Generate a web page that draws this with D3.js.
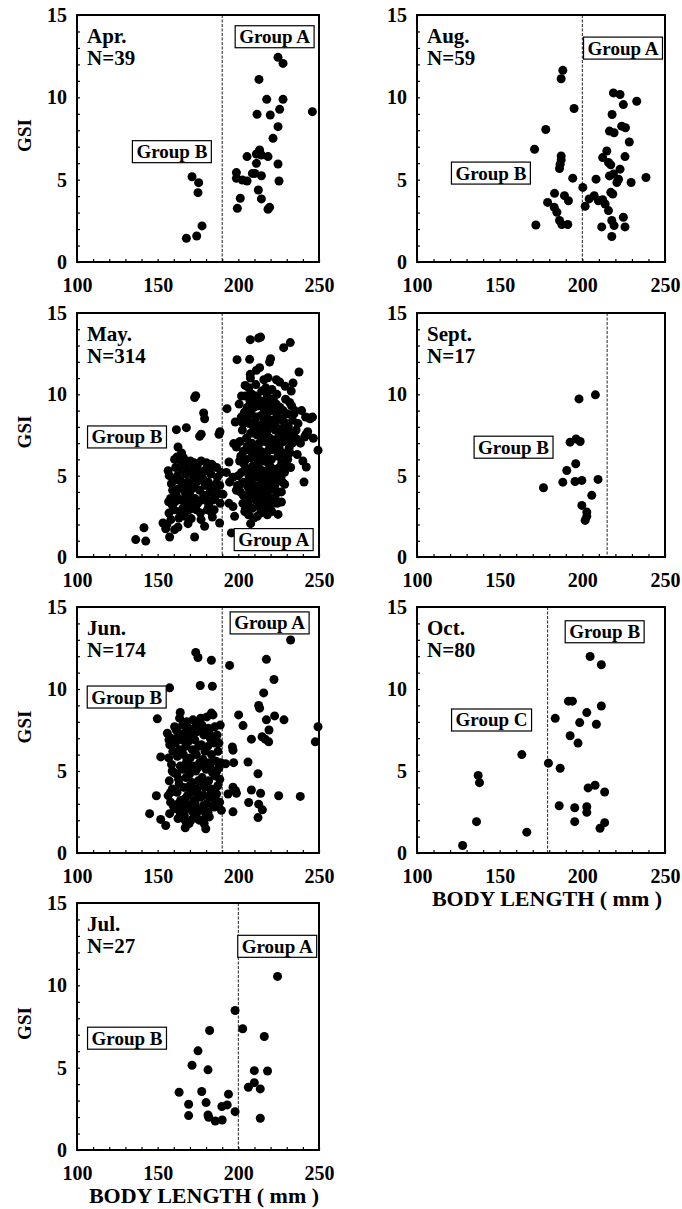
<!DOCTYPE html>
<html>
<head>
<meta charset="utf-8">
<script src="https://cdn.jsdelivr.net/npm/d3@7"></script>
<style>
  html, body { margin: 0; padding: 0; background: #fff; }
  svg { display: block; }
  text { font-family: "Liberation Serif", "Times New Roman", serif; font-weight: bold; fill: #000; }
</style>
</head>
<body>
<svg id="chart" width="682" height="1209"></svg>
<script>
// Monthly samples: [body length (mm), GSI]
const aprPoints = [
  [171.3,5.18],[175.4,4.82],[175.0,4.21],[177.5,2.19],[174.2,1.58],[167.8,1.44],
  [224.6,12.43],[227.7,12.06],[212.8,11.09],[217.6,9.88],[227.7,9.88],[245.9,9.13],
  [225.6,9.27],[211.6,8.97],[219.8,8.93],[224.6,8.22],[221.5,7.51],[212.8,6.70],
  [211.2,6.56],[214.3,6.50],[205.4,6.40],[218.4,6.40],[211.2,5.99],[224.6,5.95],
  [198.8,5.43],[198.8,5.08],[202.5,4.98],[205.4,4.92],[208.7,5.38],[214.3,5.24],
  [225.2,4.92],[212.4,4.37],[201.2,3.87],[214.3,3.83],[199.4,3.26],[218.4,3.20],
  [219.4,3.32],[213.2,6.80],[210.2,5.38]
];

const mayPoints = [
  // smaller fish
  [136.4,1.07],[142.6,0.98],[141.5,1.80],[153.3,2.09],[155.0,1.74],[157.4,1.23],[160.5,1.68],
  [162.6,1.84],[172.9,1.23],[179.1,1.89],[168.8,2.05],[170.8,2.36],[183.9,2.46],[188.4,2.09],
  [161.6,7.83],[167.8,7.95],[172.9,9.80],[173.6,9.92],[178.5,8.85],[179.1,8.50],[176.0,7.42],
  [177.0,7.55],[188.0,7.54],[188.6,7.70],[162.6,6.76],[162.0,6.15],[164.8,6.40],
  [156.5,5.3],[157.2,5.0],[158.0,3.6],[156.8,3.4],[159.0,3.2],[160.2,2.9],[157.0,2.7],
  [161.5,3.8],[163.0,4.2],[164.5,3.5],[163.8,2.8],[165.0,5.4],[166.2,5.8],[167.5,5.1],
  [168.4,4.6],[166.9,4.0],[168.0,3.3],[169.5,2.9],[170.2,5.9],[171.0,5.4],[172.3,4.9],
  [171.5,4.2],[173.0,3.6],[172.0,3.0],[174.5,5.6],[175.3,4.7],[176.0,4.1],[174.8,3.3],
  [176.5,2.7],[177.8,5.2],[178.6,3.8],[179.5,4.4],[180.2,5.8],[181.0,5.5],[181.6,3.2],
  [182.5,4.0],[183.5,5.7],[184.2,3.5],[185.0,2.9],[186.3,4.5],[187.5,3.9],[188.8,3.3],
  [189.3,5.2],[160.0,4.7],[161.2,5.5],[159.3,4.1],[165.7,3.0],[170.0,3.8],[173.7,5.3],
  [177.0,5.9],[163.2,2.4],[167.0,2.5],[158.2,2.3],[155.7,2.0],[184.3,5.6],[186.5,5.5],
  [190.5,3.85],[180.8,2.9],[176.9,2.3],[166.0,6.1],
  [158.5,4.5],[160.8,3.4],[162.3,5.0],[164.0,4.7],[165.6,4.3],[167.2,3.7],[169.0,5.3],
  [169.8,4.4],[171.4,3.4],[173.4,4.5],[174.0,2.9],[175.5,5.0],[177.3,3.5],[178.2,4.8],
  [180.0,3.6],[181.3,4.6],[182.9,5.1],[184.6,4.3],[185.6,3.7],[187.0,4.9],[183.0,2.8],
  [167.0,5.6],[164.5,5.9],[160.5,6.0],[172.5,5.8],[179.0,5.3],[188.5,4.4],
  // larger fish
  [207.4,13.36],[212.6,13.46],[213.8,13.52],[232.2,13.18],[228.1,12.87],[199.2,12.13],
  [207.0,12.15],[220.0,12.19],[219.4,11.99],[213.2,11.64],[211.2,11.48],[207.4,11.23],
  [237.6,11.37],[218.4,11.02],[223.6,10.90],[225.6,10.76],[233.9,10.70],[204.2,10.55],
  [193.0,9.12],[249.4,6.56],[241.7,8.61],[243.8,8.55],[242.1,7.54],[241.1,7.38],[236.0,7.27],
  [242.1,5.53],[240.7,4.61],[228.7,4.47],[226.7,4.0],[226.7,3.38],[224.6,2.62],[207.6,2.05],
  [195.7,1.48],[194.2,3.3],[196.7,4.9],[198.8,4.1],[197.1,6.97],[198.8,6.76],[198.1,8.30],
  [194.2,5.84],[192.6,5.2],[194.6,4.6],[196.7,3.1],[197.7,2.5],
  [200.5,9.4],[201.8,8.6],[202.5,7.8],[201.0,7.1],[203.2,6.5],[200.8,5.9],[202.0,5.2],
  [203.5,4.6],[201.2,4.0],[202.8,3.3],[204.0,2.8],[200.0,5.0],[199.5,4.4],[204.5,9.9],
  [203.8,8.9],[205.0,7.3],[204.6,6.0],[205.3,5.4],[205.8,3.8],[204.4,3.0],
  [206.5,10.4],[207.2,9.6],[208.0,8.8],[206.8,8.2],[207.6,7.6],[208.4,7.0],[206.2,6.6],
  [207.9,6.1],[209.0,5.6],[206.6,5.0],[208.2,4.5],[209.3,4.0],[207.0,3.5],[208.7,3.0],
  [206.3,2.6],[209.6,2.4],[209.8,9.2],[209.4,8.0],[210.0,6.8],[209.9,5.1],[208.8,3.6],
  [207.5,11.0],
  [210.8,10.6],[211.5,9.9],[212.3,9.3],[211.0,8.6],[212.8,8.1],[211.7,7.5],[213.0,7.0],
  [210.6,6.3],[212.2,5.9],[213.5,5.4],[211.3,4.9],[212.9,4.4],[214.0,3.9],[210.9,3.5],
  [212.6,3.1],[213.8,2.7],[214.5,10.2],[214.2,8.7],[214.8,7.4],[214.4,6.2],[215.0,5.0],
  [214.6,3.4],[211.8,2.5],[213.2,4.2],
  [215.8,10.9],[216.5,9.6],[217.3,8.9],[216.0,8.3],[217.8,7.7],[216.6,7.1],[218.2,6.5],
  [215.9,5.9],[217.5,5.3],[218.6,4.8],[216.3,4.3],[217.9,3.7],[219.0,3.2],[216.8,2.9],
  [219.4,9.4],[219.8,8.1],[219.2,6.9],[219.6,5.6],[218.9,4.1],[220.0,3.6],[215.5,7.9],
  [220.8,10.3],[221.6,9.7],[222.4,9.0],[221.0,8.4],[222.9,7.8],[221.4,7.2],[223.2,6.6],
  [220.5,6.0],[222.1,5.4],[223.6,4.7],[221.3,4.2],[222.8,3.7],[224.2,3.3],[220.7,2.8],
  [224.0,8.7],[224.5,6.2],[224.8,5.1],[223.9,10.0],[225.0,7.4],
  [225.8,9.2],[226.5,8.5],[227.3,7.9],[226.0,7.0],[228.0,6.4],[226.9,5.8],[228.6,5.2],
  [227.4,4.6],[229.3,9.7],[230.2,8.8],[231.0,8.0],[229.8,7.3],[231.5,6.7],[230.6,6.0],
  [232.4,5.5],[233.0,9.3],[233.6,8.4],[234.2,7.6],[232.8,10.2],[235.0,9.0],[229.0,10.5],
  [237.0,8.2],[238.5,7.0],[236.5,6.3],[239.2,9.0],[240.0,5.9],[244.5,8.5],[246.0,8.6],
  [241.8,7.5],[243.0,7.7],[246.5,7.3],
  [202.0,9.9],[203.0,8.2],[201.5,6.2],[203.6,5.7],[201.8,4.5],[203.0,3.8],[205.5,9.2],
  [205.8,8.4],[205.5,6.8],[206.0,4.3],[205.6,3.3],[208.5,10.0],[207.0,9.0],[208.6,6.5],
  [207.2,5.4],[207.6,4.8],[209.7,4.4],[210.2,7.6],[210.5,8.3],[210.0,9.6],[211.4,5.4],
  [211.6,4.1],[212.0,3.8],[213.4,9.6],[213.6,7.8],[213.8,6.5],[212.7,6.6],[215.3,9.2],
  [215.2,4.6],[215.5,3.9],[216.2,3.4],[217.0,10.4],[217.0,6.2],[216.9,4.9],[218.0,9.9],
  [218.3,8.5],[218.4,5.8],[218.0,2.6],[219.5,4.5],[219.5,7.3],[220.3,9.0],[220.8,6.6],
  [221.0,5.0],[221.8,3.3],[222.5,6.9],[222.6,4.4],[223.0,8.2],[223.5,9.4],[224.6,4.0],
  [225.3,6.7],[225.6,5.5],[226.2,7.6],[226.4,4.9],[227.8,9.0],[228.4,8.3],[228.0,7.1],
  [229.3,6.2],[229.6,5.6],[230.8,7.7],[231.8,9.5],[231.9,7.2],[233.5,7.0],[234.5,8.8],
  [232.0,6.4],[235.8,7.8]
];

const junPoints = [
  // smaller fish
  [157.4,10.07],[173.6,12.23],[175.0,11.92],[183.3,11.75],[176.4,10.21],[183.9,10.17],
  [149.8,8.18],[164.0,8.57],[163.6,8.22],[183.3,8.53],[184.3,8.42],[176.7,8.22],[171.9,8.12],
  [145.0,2.40],[151.9,2.05],[155.0,1.68],[167.1,1.54],[179.8,1.48],[149.2,3.49],[151.9,5.86],
  [156.0,7.3],[158.2,7.0],[157.5,6.6],[159.4,6.2],[156.8,5.8],[158.6,5.4],[160.0,4.9],
  [157.2,4.4],[159.1,3.9],[156.5,3.5],[158.0,3.1],[160.3,2.7],[157.4,2.4],
  [161.5,7.5],[162.8,7.1],[161.0,6.7],[163.5,6.3],[162.2,5.9],[164.0,5.3],[161.8,4.8],
  [163.3,4.2],[162.0,3.7],[164.2,3.2],[161.4,2.9],[163.8,2.5],[162.6,2.1],
  [165.4,7.8],[166.6,7.3],[165.0,6.9],[167.3,6.5],[166.0,6.0],[168.0,5.6],[165.6,5.1],
  [167.5,4.6],[166.3,4.0],[168.4,3.5],[165.2,3.0],[167.8,2.7],[166.5,2.3],
  [169.5,7.6],[170.8,7.2],[169.0,6.8],[171.5,6.3],[170.2,5.8],[172.0,5.3],[169.7,4.8],
  [171.2,4.3],[170.5,3.7],[172.3,3.2],[169.3,2.9],[171.8,2.5],[170.6,2.0],
  [173.4,8.0],[174.5,7.4],[173.0,6.9],[175.3,6.5],[174.0,6.0],[176.0,5.5],[173.6,5.0],
  [175.2,4.4],[174.4,3.9],[176.3,3.4],[173.2,3.0],[175.8,2.6],[174.6,2.1],
  [177.5,7.8],[178.6,7.2],[177.0,6.6],[179.4,6.2],[178.0,5.7],[180.0,5.1],[177.6,4.6],
  [179.2,4.0],[178.4,3.5],[180.3,3.0],[177.2,2.6],[179.8,2.2],[178.8,1.8],
  [181.5,7.6],[182.6,7.0],[181.0,6.5],[183.4,6.0],[182.0,5.5],[184.0,4.9],[181.6,4.4],
  [183.2,3.9],[182.4,3.4],[184.3,2.9],[181.2,2.5],
  [185.5,7.7],[186.8,7.2],[185.0,6.7],[187.4,6.2],[186.2,5.6],[188.0,5.2],[185.6,4.7],
  [187.3,4.1],[186.5,3.6],[188.4,3.1],[185.3,2.8],[189.0,5.5],[189.5,2.6],[188.8,7.8],
  [157.0,6.9],[159.0,5.0],[158.0,3.7],[159.6,2.9],[163.0,7.3],[162.0,6.1],[163.0,4.5],
  [162.8,3.0],[166.2,7.0],[167.0,5.3],[166.8,3.3],[167.0,2.0],[170.0,7.0],[171.0,5.0],
  [170.0,4.1],[171.0,2.7],[174.0,7.7],[174.8,5.2],[175.0,3.6],[173.8,2.4],[178.0,7.5],
  [178.8,5.4],[178.6,4.2],[178.5,2.9],[182.0,7.3],[182.8,5.2],[182.8,3.6],[182.0,2.2],
  [186.0,7.0],[186.7,5.0],[186.0,3.2],[188.0,6.7],[188.5,4.5],[160.5,7.7],[168.0,8.0],
  [180.5,8.3],[176.0,2.0],[169.5,1.8],
  // larger fish
  [232.4,12.99],[194.6,11.44],[217.4,11.81],[222.1,10.58],[215.7,9.76],[212.6,9.0],
  [213.2,8.83],[200.2,8.42],[222.5,8.36],[217.4,8.12],[228.3,8.12],[202.9,7.77],
  [219.0,7.50],[214.7,7.09],[208.1,6.94],[216.7,6.94],[218.8,6.78],[249.4,7.70],
  [247.7,6.78],[196.3,6.47],[196.7,6.27],[206.0,5.55],[197.1,5.51],[212.2,4.83],
  [192.1,5.44],[196.7,4.01],[198.3,3.80],[193.6,3.60],[198.8,3.64],[208.1,3.84],
  [213.8,3.64],[225.0,3.49],[238.4,3.45],[206.4,3.08],[212.6,2.98],[214.9,2.63],
  [196.7,2.51],[212.2,2.16]
];

const julPoints = [
  [224.3,10.54],[198.0,8.47],[182.2,7.26],[202.7,7.36],[216.1,6.89],[175.0,6.02],
  [171.3,5.15],[181.2,4.87],[209.9,4.82],[218.1,4.80],[209.9,4.09],[206.2,3.81],
  [213.6,3.71],[163.3,3.51],[177.3,3.55],[193.9,3.39],[169.2,2.78],[180.0,2.88],
  [193.1,2.74],[189.8,2.64],[198.0,2.33],[169.2,2.09],[181.2,2.13],[181.6,1.99],
  [185.7,1.76],[190.0,1.82],[213.6,1.93]
];

const augPoints = [
  [188.2,11.64],[187.2,11.13],[195.0,9.32],[177.9,8.05],[171.1,6.85],[187.2,6.44],
  [187.2,6.20],[186.6,5.94],[186.2,5.68],[194.2,5.09],[200.3,4.53],[183.2,4.17],
  [189.2,4.03],[191.6,3.72],[179.0,3.62],[183.0,3.32],[184.6,3.02],[186.2,2.52],
  [187.6,2.28],[191.2,2.28],[171.9,2.25],
  [218.8,10.27],[222.8,10.17],[232.9,9.76],[224.8,9.56],[218.0,8.96],[223.8,8.25],
  [226.1,8.15],[216.4,7.95],[219.2,7.85],[228.4,7.29],[214.8,6.74],[212.3,6.34],
  [225.8,6.40],[215.8,6.04],[217.2,5.90],[222.8,5.64],[216.4,5.23],[218.8,5.34],
  [208.3,5.03],[221.9,5.03],[220.9,4.83],[229.5,4.83],[238.5,5.13],[217.2,4.23],
  [218.4,4.13],[201.7,3.38],[204.1,3.83],[207.2,4.03],[209.7,3.72],[212.3,3.78],
  [213.8,3.52],[215.8,3.12],[217.8,2.52],[219.2,2.21],[224.8,2.72],[225.8,2.13],
  [211.7,2.13],[217.8,1.55]
];

const septPoints = [
  [198.0,9.72],[207.9,9.97],[192.6,7.06],[196.2,7.26],[198.7,7.10],[196.0,5.73],
  [190.6,5.32],[188.2,4.60],[195.6,4.64],[199.7,4.71],[209.5,4.77],[176.5,4.26],
  [205.7,3.79],[199.7,3.17],[202.7,2.76],[202.7,2.50],[201.7,2.25]
];

const octPoints = [
  [204.7,11.98],[211.5,11.48],[191.6,9.26],[194.0,9.26],[211.5,8.96],[202.7,8.56],
  [183.6,8.21],[198.4,7.95],[208.5,7.85],[192.6,7.15],[197.4,6.70],[163.4,6.00],
  [179.5,5.48],[186.6,5.17],[137.0,4.73],[137.8,4.29],[207.7,4.13],[203.5,3.97],
  [213.5,3.72],[186.0,2.88],[195.4,2.76],[202.7,2.82],[202.7,2.48],[136.0,1.91],
  [195.4,1.91],[213.5,1.85],[210.7,1.51],[166.4,1.27],[127.6,0.46]
];

// Months, sample sizes and the body length separating the groups
const months = ["Apr.", "May.", "Jun.", "Jul.", "Aug.", "Sept.", "Oct."];
const sampleSizes = [39, 314, 174, 27, 59, 17, 80];
const groupSplits = [190, 190, 190, 200, 200, 215, 179];
const monthPoints = [aprPoints, mayPoints, junPoints, julPoints, augPoints, septPoints, octPoints];

// Group label boxes, centred at (body length, GSI)
const groupLabels = [
  [{ text: "Group A", x: 222.5, y: 13.68 }, { text: "Group B", x: 158.8, y: 6.70 }],
  [{ text: "Group B", x: 131.0, y: 7.38 }, { text: "Group A", x: 221.9, y: 1.07 }],
  [{ text: "Group A", x: 219.4, y: 14.03 }, { text: "Group B", x: 130.8, y: 9.51 }],
  [{ text: "Group A", x: 224.1, y: 12.37 }, { text: "Group B", x: 131.0, y: 6.79 }],
  [{ text: "Group A", x: 224.6, y: 12.99 }, { text: "Group B", x: 144.7, y: 5.40 }],
  [{ text: "Group B", x: 158.4, y: 6.75 }],
  [{ text: "Group B", x: 213.5, y: 13.49 }, { text: "Group C", x: 145.1, y: 8.11 }]
];

const xTickLabels = [100, 150, 200, 250];
const yTickLabels = [0, 5, 10, 15];

// Panel grid: column and row for each month
const columnsX = [[77, 319], [417, 665]];
const rowsY = [[15, 262], [313, 557], [607, 853], [903, 1150]];
const cells = [[0, 0], [0, 1], [0, 2], [0, 3], [1, 0], [1, 1], [1, 2]];
const xTitled = [false, false, false, true, false, false, true];

const svg = d3.select("#chart");
const fontSize = 20;

months.forEach((month, i) => {
  const [col, row] = cells[i];
  const [x0, x1] = columnsX[col];
  const [y0, y1] = rowsY[row];

  const x = d3.scaleLinear().domain([100, 250]).range([x0, x1]);
  const y = d3.scaleLinear().domain([0, 15]).range([y1, y0]);

  const g = svg.append("g").attr("class", "panel");

  // inner minor ticks (left and bottom)
  const yIn = g.append("g").attr("transform", `translate(${x0},0)`)
    .call(d3.axisRight(y).ticks(15).tickSize(3).tickFormat(""));
  yIn.select(".domain").remove();
  yIn.selectAll("line").attr("stroke", "#000").attr("stroke-width", 1.2);

  const xIn = g.append("g").attr("transform", `translate(0,${y1})`)
    .call(d3.axisTop(x).tickValues(d3.range(100, 251, 10)).tickSize(3).tickFormat(""));
  xIn.select(".domain").remove();
  xIn.selectAll("line").attr("stroke", "#000").attr("stroke-width", 1.2);

  // tick labels
  const yLab = g.append("g").attr("transform", `translate(${x0},0)`)
    .call(d3.axisLeft(y).tickValues(yTickLabels).tickSize(0).tickPadding(10));
  yLab.select(".domain").remove();
  yLab.selectAll("text").attr("font-size", fontSize).attr("font-family", null);

  const xLab = g.append("g").attr("transform", `translate(0,${y1})`)
    .call(d3.axisBottom(x).tickValues(xTickLabels).tickSize(0).tickPadding(16));
  xLab.select(".domain").remove();
  xLab.selectAll("text").attr("font-size", fontSize).attr("font-family", null);

  // group boundary
  g.append("line")
    .attr("x1", x(groupSplits[i])).attr("x2", x(groupSplits[i]))
    .attr("y1", y0).attr("y2", y1)
    .attr("stroke", "#222").attr("stroke-width", 1)
    .attr("stroke-dasharray", "3,1.5");

  // points
  g.append("g").selectAll("circle")
    .data(monthPoints[i])
    .join("circle")
    .attr("cx", d => x(d[0]))
    .attr("cy", d => y(d[1]))
    .attr("r", 4.5)
    .attr("fill", "#000");

  // group label boxes
  groupLabels[i].forEach(lbl => {
    const lg = g.append("g").attr("transform", `translate(${x(lbl.x)},${y(lbl.y)})`);
    const t = lg.append("text")
      .attr("text-anchor", "middle")
      .attr("dy", "0.34em")
      .attr("font-size", 19)
      .text(lbl.text);
    const w = t.node().getComputedTextLength() + 8;
    lg.insert("rect", "text")
      .attr("x", -w / 2).attr("y", -11)
      .attr("width", w).attr("height", 22)
      .attr("fill", "#fff").attr("stroke", "#000").attr("stroke-width", 1.2);
  });

  // frame
  g.append("rect")
    .attr("x", x0).attr("y", y0)
    .attr("width", x1 - x0).attr("height", y1 - y0)
    .attr("fill", "none").attr("stroke", "#000").attr("stroke-width", 2);

  // month and sample size
  g.append("text").attr("x", x0 + 10).attr("y", y0 + 28)
    .attr("font-size", 21).text(month);
  g.append("text").attr("x", x0 + 10).attr("y", y0 + 50)
    .attr("font-size", 21).text(`N=${sampleSizes[i]}`);

  // axis titles
  if (col === 0) {
    g.append("text")
      .attr("transform", `translate(31,${(y0 + y1) / 2 - 3}) rotate(-90)`)
      .attr("text-anchor", "middle")
      .attr("font-size", 19)
      .text("GSI");
  }
  if (xTitled[i]) {
    g.append("text")
      .attr("x", (x0 + x1) / 2 + 6).attr("y", y1 + 53)
      .attr("text-anchor", "middle")
      .attr("font-size", 22)
      .text("BODY LENGTH ( mm )");
  }
});
</script>
</body>
</html>
